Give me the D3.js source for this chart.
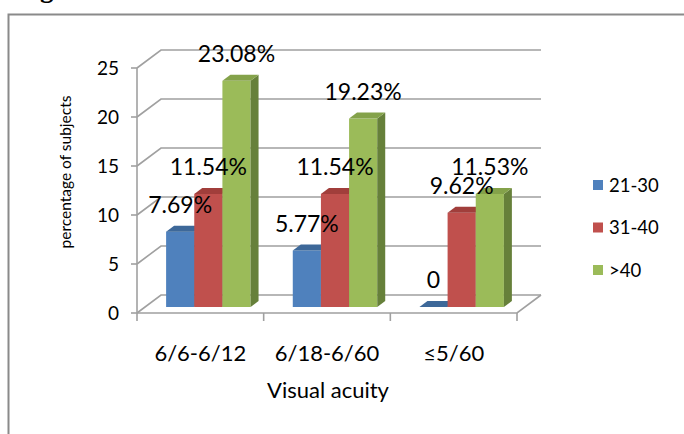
<!DOCTYPE html>
<html>
<head>
<meta charset="utf-8">
<script src="https://cdn.jsdelivr.net/npm/d3@7"></script>
<style>
  html, body { margin: 0; padding: 0; background: #fff; }
  svg { display: block; }
  text { font-family: Lato, "Open Sans", sans-serif; fill: #000; }
</style>
</head>
<body>
<svg id="chart" width="684" height="434"></svg>
<script>
// Visual acuity by age group (percentage of subjects)
const categories = ["6/6-6/12", "6/18-6/60", "\u22645/60"];
const series = ["21-30", "31-40", ">40"];
const values21to30 = [7.69, 5.77, 0];
const values31to40 = [11.54, 11.54, 9.62];
const valuesOver40 = [23.08, 19.23, 11.53];
const labels21to30 = ["7.69%", "5.77%", "0"];
const labels31to40 = ["11.54%", "11.54%", "9.62%"];
const labelsOver40 = ["23.08%", "19.23%", "11.53%"];
const yTicks = [0, 5, 10, 15, 20, 25];

const seriesValues = [values21to30, values31to40, valuesOver40];
const seriesLabels = [labels21to30, labels31to40, labelsOver40];

const faces = [
  { front: "#4f81bd", top: "#3d6899", side: "#385d8a" },
  { front: "#c0504d", top: "#a13e3b", side: "#8c3836" },
  { front: "#9bbb59", top: "#84a24a", side: "#66803a" }
];

const svg = d3.select("#chart");

// Caption of the figure, running off the top of the page
svg.append("text")
  .attr("x", 16).attr("y", -3)
  .style("font-family", "'Liberation Serif', serif")
  .style("font-weight", "bold")
  .style("font-size", "27px")
  .text("Figure 6: Visual status in three cohorts");

// Chart area border
svg.append("rect")
  .attr("x", 8.5).attr("y", 14.5)
  .attr("width", 700).attr("height", 440)
  .attr("fill", "none")
  .attr("stroke", "#8a8a8a")
  .attr("stroke-width", 2);

// Oblique projection for the 3-D look: depth shifts right and up
const DX = 24, DY = 18;
const frontLeft = 137, frontRight = 517;

const y = d3.scaleLinear().domain([0, 25]).range([313, 68]);
const x = d3.scaleBand().domain(categories).range([frontLeft, frontRight]);
const xs = d3.scaleBand().domain(series).range([0, x.bandwidth()]).paddingOuter(0.75);

const grid = svg.append("g").attr("fill", "none").attr("stroke", "#a0a0a0").attr("stroke-width", 1.6);

// Side-wall and back-wall gridlines
yTicks.forEach(t => {
  const yy = y(t);
  grid.append("polyline")
    .attr("points", [[frontLeft, yy], [frontLeft + DX, yy - DY], [frontRight + DX, yy - DY]].join(" "));
  grid.append("line")
    .attr("x1", frontLeft - 6).attr("x2", frontLeft)
    .attr("y1", yy).attr("y2", yy);
});

// Vertical axis line
grid.append("line")
  .attr("x1", frontLeft).attr("x2", frontLeft)
  .attr("y1", y(0)).attr("y2", y(25));

// Floor front and right edges
grid.append("polyline")
  .attr("points", [[frontLeft, y(0)], [frontRight, y(0)], [frontRight + DX, y(0) - DY]].join(" "));

// Category tick marks
const tickXs = categories.map(c => x(c)).concat([frontRight]);
tickXs.forEach(tx => {
  grid.append("line")
    .attr("x1", tx).attr("x2", tx)
    .attr("y1", y(0)).attr("y2", y(0) + 8);
});

// Y tick labels
svg.append("g").selectAll("text")
  .data(yTicks).join("text")
  .attr("x", 119).attr("y", d => y(d))
  .attr("dy", "0.36em")
  .attr("text-anchor", "end")
  .style("font-size", "19px")
  .text(d => d);

// Y axis title
svg.append("text")
  .attr("transform", "translate(71,172) rotate(-90)")
  .attr("text-anchor", "middle")
  .style("font-size", "15.5px")
  .text("percentage of subjects");

// Bars: front face sits a third of the way into the depth
const z0 = 1 / 3, z1 = 2 / 3;
const bars = [];
categories.forEach((c, ci) => {
  series.forEach((s, si) => {
    bars.push({ ci, si, v: seriesValues[si][ci], label: seriesLabels[si][ci], x: x(c) + xs(s), w: xs.bandwidth() });
  });
});

const barG = svg.append("g");
bars.forEach(b => {
  const fx = b.x + z0 * DX, bx = b.x + z1 * DX;
  const fyTop = y(b.v) - z0 * DY, byTop = y(b.v) - z1 * DY;
  const fyBase = y(0) - z0 * DY, byBase = y(0) - z1 * DY;
  const col = faces[b.si];
  if (b.v > 0) {
    barG.append("rect")
      .attr("x", fx).attr("y", fyTop)
      .attr("width", b.w).attr("height", fyBase - fyTop)
      .attr("fill", col.front);
    barG.append("polygon")
      .attr("points", [[fx + b.w, fyTop], [bx + b.w, byTop], [bx + b.w, byBase], [fx + b.w, fyBase]].join(" "))
      .attr("fill", col.side);
  }
  barG.append("polygon")
    .attr("points", [[fx, fyTop], [fx + b.w, fyTop], [bx + b.w, byTop], [bx, byTop]].join(" "))
    .attr("fill", col.top);
});

// Value labels above each bar
svg.append("g").selectAll("text")
  .data(bars).join("text")
  .attr("x", d => d.x + z0 * DX + d.w / 2)
  .attr("y", d => y(d.v) - z0 * DY - 27)
  .attr("dy", "0.36em")
  .attr("text-anchor", "middle")
  .style("font-size", "23px")
  .text(d => d.label);

// Category labels
svg.append("g").selectAll("text")
  .data(categories).join("text")
  .attr("x", d => x(d) + x.bandwidth() / 2)
  .attr("y", 353)
  .attr("dy", "0.36em")
  .attr("text-anchor", "middle")
  .style("font-size", "22px")
  .text(d => d);

// X axis title
svg.append("text")
  .attr("x", 328).attr("y", 390)
  .attr("dy", "0.36em")
  .attr("text-anchor", "middle")
  .style("font-size", "22px")
  .text("Visual acuity");

// Legend
const legend = svg.append("g");
series.forEach((s, i) => {
  const ly = 185 + i * 42.5;
  legend.append("rect")
    .attr("x", 593).attr("y", ly - 5)
    .attr("width", 10).attr("height", 10)
    .attr("fill", faces[i].front);
  legend.append("text")
    .attr("x", 609).attr("y", ly)
    .attr("dy", "0.36em")
    .style("font-size", "18.5px")
    .text(s);
});
</script>
</body>
</html>
